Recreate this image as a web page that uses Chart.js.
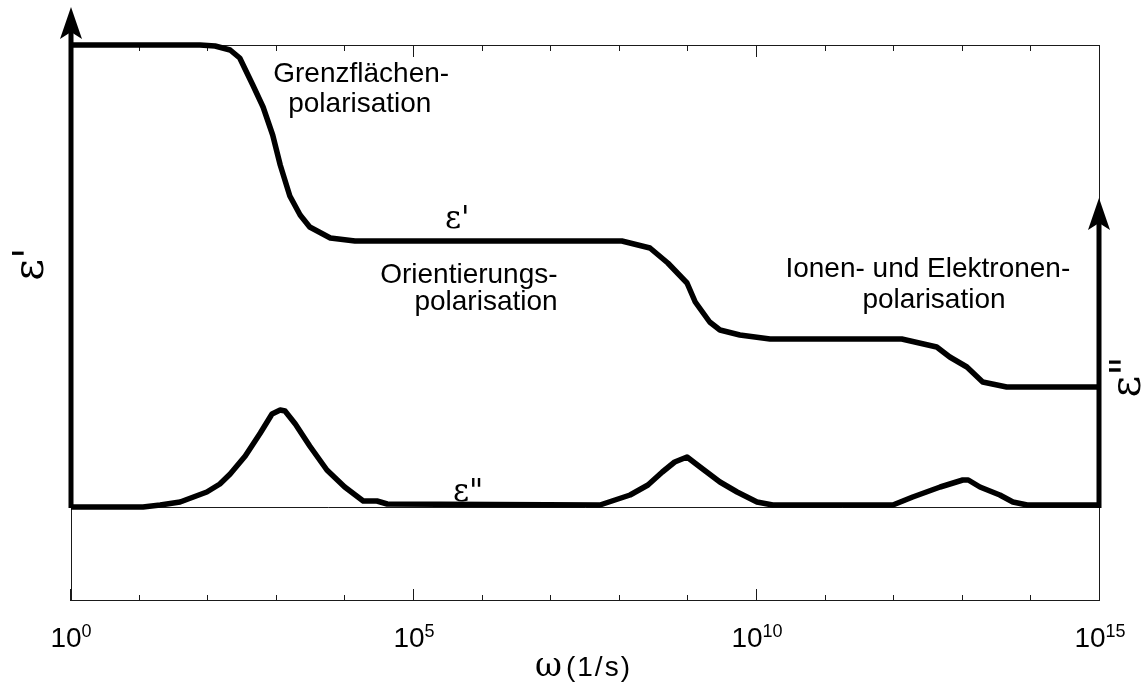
<!DOCTYPE html>
<html>
<head>
<meta charset="utf-8">
<script src="https://cdn.jsdelivr.net/npm/chart.js@4.4.1/dist/chart.umd.min.js"></script>
<style>
  html, body { margin: 0; padding: 0; background: #fff; }
  #chart { display: block; }
</style>
</head>
<body>
<canvas id="chart" width="1145" height="695"></canvas>
<script>
// ε' (Realteil): log10(ω) und Wert (willkürliche Einheiten)
const epsRealLogW = [0, 1.88, 2.10, 2.32, 2.46, 2.65, 2.80, 2.94, 3.05, 3.19, 3.34, 3.48, 3.78, 4.14,
    8.03, 8.44, 8.70, 8.98, 9.10, 9.31, 9.46, 9.75, 10.19, 12.11, 12.62, 12.81, 13.06, 13.29, 13.64, 15];
const epsRealVal = [4.62, 4.62, 4.61, 4.57, 4.49, 4.22, 4.00, 3.72, 3.42, 3.11, 2.92, 2.80, 2.69, 2.66,
    2.66, 2.59, 2.44, 2.24, 2.05, 1.85, 1.77, 1.72, 1.68, 1.68, 1.60, 1.50, 1.40, 1.25, 1.20, 1.20];

// ε'' (Imaginärteil)
const epsImagLogW = [0, 1.05, 1.30, 1.59, 1.98, 2.17, 2.32, 2.54, 2.76, 2.93, 3.05, 3.12, 3.27, 3.48, 3.73, 3.99, 4.26, 4.46, 4.61,
    7.71, 8.15, 8.41, 8.62, 8.80, 8.98, 9.17, 9.46, 9.71, 10.0, 10.23,
    11.98, 12.27, 12.67, 13.0, 13.08, 13.25, 13.54, 13.73, 13.94, 15];
const epsImagVal = [0, 0, 0.02, 0.05, 0.15, 0.23, 0.33, 0.51, 0.74, 0.93, 0.97, 0.96, 0.83, 0.61, 0.37, 0.20, 0.06, 0.06, 0.03,
    0.02, 0.12, 0.22, 0.35, 0.45, 0.50, 0.40, 0.25, 0.15, 0.05, 0.02,
    0.02, 0.10, 0.20, 0.27, 0.27, 0.20, 0.12, 0.05, 0.02, 0.02];

// Achsenteilung (Dekaden) und beschriftete Dekaden
const tickDecades = [0, 1, 2, 3, 4, 5, 6, 7, 8, 9, 10, 11, 12, 13, 14, 15];
const labelDecades = [0, 5, 10, 15];

// Beschriftungen im Diagramm
const noteLines = ['Grenzflächen-', 'polarisation', 'Orientierungs-', 'polarisation', 'Ionen- und Elektronen-', 'polarisation'];
const xTitleSymbol = 'ω';
const xTitleUnit = '(1/s)';

const SANS = "'Liberation Sans', Arial, sans-serif";
const GREEK = "'DejaVu Serif', serif";

function toPoints(logW, vals) {
    return logW.map((e, i) => ({ x: Math.pow(10, e), y: vals[i] }));
}

// Pfeil an einer senkrechten Achse
function drawArrow(ctx, px, yFrom, yTip) {
    ctx.lineWidth = 5;
    ctx.beginPath();
    ctx.moveTo(px, yFrom);
    ctx.lineTo(px, yTip + 24);
    ctx.stroke();
    ctx.beginPath();
    ctx.moveTo(px, yTip);
    ctx.lineTo(px + 11, yTip + 32);
    ctx.lineTo(px, yTip + 25);
    ctx.lineTo(px - 11, yTip + 32);
    ctx.closePath();
    ctx.fill();
}

function rotatedText(ctx, text, cx, cy, font) {
    ctx.save();
    ctx.translate(cx, cy);
    ctx.rotate(-Math.PI / 2);
    ctx.font = font;
    ctx.textAlign = 'center';
    ctx.textBaseline = 'alphabetic';
    ctx.fillText(text, 0, 0);
    ctx.restore();
}

// Rahmen, Skalenstriche und Nulllinie (unter den Kurven)
const frameDeco = {
    id: 'frameDeco',
    beforeDatasetsDraw(chart) {
        const { ctx, chartArea: a, scales: { x, y } } = chart;
        ctx.save();
        ctx.strokeStyle = '#1a1a1a';
        ctx.lineWidth = 1;
        ctx.strokeRect(a.left + 0.5, a.top + 0.5, a.right - a.left - 1, a.bottom - a.top - 1);

        const y0 = Math.round(y.getPixelForValue(0)) + 0.5;
        ctx.beginPath();
        ctx.moveTo(a.left, y0);
        ctx.lineTo(a.right, y0);
        ctx.stroke();

        tickDecades.forEach(d => {
            const px = Math.round(x.getPixelForValue(Math.pow(10, d))) - 0.5;
            const len = labelDecades.includes(d) ? 12 : 6;
            ctx.beginPath();
            ctx.moveTo(px, a.bottom);
            ctx.lineTo(px, a.bottom - len);
            ctx.moveTo(px, a.top);
            ctx.lineTo(px, a.top + len);
            ctx.stroke();
        });
        ctx.restore();
    },
    afterDatasetsDraw(chart) {
        const { ctx, chartArea: a, scales: { x, y } } = chart;
        ctx.save();
        ctx.fillStyle = '#000';
        ctx.strokeStyle = '#000';

        // senkrechte Achsen mit Pfeil
        const yBase = y.getPixelForValue(0) + 1;
        drawArrow(ctx, a.left, yBase, y.getPixelForValue(5.0));
        drawArrow(ctx, a.right - 1, yBase, y.getPixelForValue(3.09));

        // Dekadenbeschriftung 10^n
        labelDecades.forEach(d => {
            const px = x.getPixelForValue(Math.pow(10, d));
            ctx.font = '28px ' + SANS;
            const wBase = ctx.measureText('10').width;
            ctx.font = '18px ' + SANS;
            const wExp = ctx.measureText(String(d)).width;
            const start = px - (wBase + wExp) / 2;
            ctx.textAlign = 'left';
            ctx.textBaseline = 'alphabetic';
            ctx.font = '28px ' + SANS;
            ctx.fillText('10', start, a.bottom + 46);
            ctx.font = '18px ' + SANS;
            ctx.fillText(String(d), start + wBase, a.bottom + 36);
        });

        // Achsentitel ω (1/s)
        ctx.font = '33px ' + GREEK;
        const wSym = ctx.measureText(xTitleSymbol).width;
        ctx.font = '28px ' + SANS;
        ctx.letterSpacing = '2px';
        const wUnit = ctx.measureText(xTitleUnit).width;
        const gap = 4;
        const tx = (a.left + a.right) / 2 - 2 - (wSym + gap + wUnit) / 2;
        ctx.fillText(xTitleUnit, tx + wSym + gap, a.bottom + 75);
        ctx.letterSpacing = '0px';
        ctx.font = '33px ' + GREEK;
        ctx.fillText(xTitleSymbol, tx, a.bottom + 75);

        // Textblöcke zu den Polarisationsmechanismen (Ort in log10(ω), Wert)
        const anchors = [[4.23, 4.25], [4.21, 3.95], [5.80, 2.24], [6.05, 1.97], [12.49, 2.30], [12.58, 1.99]];
        ctx.font = '28px ' + SANS;
        ctx.textAlign = 'center';
        noteLines.forEach((t, i) => {
            const [e, v] = anchors[i];
            ctx.fillText(t, x.getPixelForValue(Math.pow(10, e)), y.getPixelForValue(v));
        });

        // Kurvenbezeichnungen
        ctx.font = '31px ' + GREEK;
        ctx.fillText("ε'", x.getPixelForValue(Math.pow(10, 5.63)), y.getPixelForValue(2.79));
        ctx.fillText('ε"', x.getPixelForValue(Math.pow(10, 5.79)), y.getPixelForValue(0.06));

        // Achsentitel links / rechts
        rotatedText(ctx, "ε'", a.left - 28, y.getPixelForValue(2.43), '42px ' + GREEK);
        rotatedText(ctx, 'ε"', a.right + 40, y.getPixelForValue(1.30), '42px ' + GREEK);
        ctx.restore();
    }
};

const ctx = document.getElementById('chart').getContext('2d');
const lineStyle = {
    borderColor: '#000',
    borderWidth: 5.5,
    borderJoinStyle: 'round',
    borderCapStyle: 'butt',
    pointRadius: 0,
    tension: 0,
    fill: false,
    clip: false
};

new Chart(ctx, {
    type: 'line',
    data: {
        datasets: [
            Object.assign({ label: "ε'", data: toPoints(epsRealLogW, epsRealVal) }, lineStyle),
            Object.assign({ label: 'ε"', data: toPoints(epsImagLogW, epsImagVal) }, lineStyle)
        ]
    },
    options: {
        responsive: false,
        animation: false,
        devicePixelRatio: 1,
        layout: { padding: { left: 71, right: 45, top: 45, bottom: 94 } },
        scales: {
            x: { type: 'logarithmic', min: 1, max: 1e15, display: false },
            y: { type: 'linear', min: -0.94, max: 4.62, display: false }
        },
        plugins: { legend: { display: false }, tooltip: { enabled: false } }
    },
    plugins: [frameDeco]
});
</script>
</body>
</html>
